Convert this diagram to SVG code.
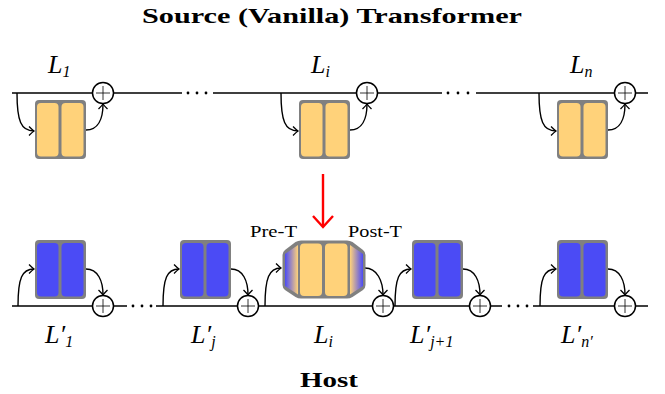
<svg xmlns="http://www.w3.org/2000/svg" width="665" height="394" viewBox="0 0 665 394">
<style>
.ln{stroke:#000;stroke-width:1.5;fill:none}
.arr{stroke:#000;stroke-width:1.4;fill:none;marker-end:url(#ah)}
.frame{fill:#808080}
.org{fill:#FFD27A}
.blu{fill:#4B4BF5}
.plus circle{fill:#fff;stroke:#000;stroke-width:1.5}
.plus path{stroke:#000;stroke-width:0.8;fill:none}
.dot{fill:#000}
text{font-family:'Liberation Serif','Times New Roman','DejaVu Serif',serif;fill:#000}
.title{font-weight:bold;font-size:21px}
.lab{font-style:italic;font-size:26px}
.sub{font-size:16px}
.small{font-size:17.5px}
</style>
<defs>
<marker id="ah" markerUnits="userSpaceOnUse" markerWidth="12" markerHeight="12" viewBox="-6 -6 12 12" refX="0" refY="0" orient="auto">
<path d="M-5,-4.5 Q-1.5,-1 0,0 Q-1.5,1 -5,4.5" stroke="#000" stroke-width="1.3" fill="none"/>
</marker>
<linearGradient id="gl" x1="0" y1="0" x2="1" y2="0">
<stop offset="0" stop-color="#4B4BF5"/>
<stop offset="1" stop-color="#FFD27A"/>
</linearGradient>
<linearGradient id="gr" x1="0" y1="0" x2="1" y2="0">
<stop offset="0" stop-color="#FFD27A"/>
<stop offset="1" stop-color="#4B4BF5"/>
</linearGradient>
</defs>

<text class="title" x="332" y="23" text-anchor="middle" textLength="380" lengthAdjust="spacingAndGlyphs">Source (Vanilla) Transformer</text>
<text class="title" x="329" y="387" text-anchor="middle" textLength="58" lengthAdjust="spacingAndGlyphs">Host</text>

<g id="connectors">
<path class="ln" d="M12,93 H182 M213,93 H442 M476,93 H648"/>
<circle class="dot" cx="188" cy="93" r="1.4"/><circle class="dot" cx="197" cy="93" r="1.4"/><circle class="dot" cx="206" cy="93" r="1.4"/>
<circle class="dot" cx="448" cy="93" r="1.4"/><circle class="dot" cx="458" cy="93" r="1.4"/><circle class="dot" cx="468" cy="93" r="1.4"/>
<path class="ln" d="M12,306 H127 M156,306 H502 M533,306 H648"/>
<circle class="dot" cx="133" cy="306" r="1.4"/><circle class="dot" cx="142" cy="306" r="1.4"/><circle class="dot" cx="151" cy="306" r="1.4"/>
<circle class="dot" cx="509" cy="306" r="1.4"/><circle class="dot" cx="518" cy="306" r="1.4"/><circle class="dot" cx="527" cy="306" r="1.4"/>
<path class="arr" d="M17,93 C17,121 21,131 34,131"/>
<path class="arr" d="M86,130 C98,130 103,119 103,104"/>
<path class="arr" d="M281,93 C281,121 285,131 298,131"/>
<path class="arr" d="M350,130 C362,130 367,119 367,104"/>
<path class="arr" d="M539,93 C539,121 543,131 556,131"/>
<path class="arr" d="M608,130 C620,130 625,119 625,104"/>
<path class="arr" d="M18,306 C18,278 22,269 34,269"/>
<path class="arr" d="M86,269 C98,269 103,281 103,295"/>
<path class="arr" d="M163,306 C163,278 167,269 179,269"/>
<path class="arr" d="M231,269 C243,269 248,281 248,295"/>
<path class="arr" d="M265,306 C265,278 269,268 281,268"/>
<path class="arr" d="M365,268 C377,268 383,281 383,295"/>
<path class="arr" d="M395,306 C395,278 399,269 411,269"/>
<path class="arr" d="M463,269 C475,269 480,281 480,295"/>
<path class="arr" d="M540,306 C540,278 544,269 556,269"/>
<path class="arr" d="M608,269 C620,269 625,281 625,295"/>
<path d="M323,174 V226" stroke="#FF0000" stroke-width="2.4" fill="none"/>
<path d="M313,216 L323,227 L333,216" stroke="#FF0000" stroke-width="2.4" fill="none"/>
</g>

<g id="adders">
<g class="plus"><circle cx="103" cy="93" r="10.5"/><path d="M96,93 H110 M103,86 V100"/></g>
<g class="plus"><circle cx="367" cy="93" r="10.5"/><path d="M360,93 H374 M367,86 V100"/></g>
<g class="plus"><circle cx="625" cy="93" r="10.5"/><path d="M618,93 H632 M625,86 V100"/></g>
<g class="plus"><circle cx="103" cy="306" r="10.5"/><path d="M96,306 H110 M103,299 V313"/></g>
<g class="plus"><circle cx="248" cy="306" r="10.5"/><path d="M241,306 H255 M248,299 V313"/></g>
<g class="plus"><circle cx="383" cy="306" r="10.5"/><path d="M376,306 H390 M383,299 V313"/></g>
<g class="plus"><circle cx="480" cy="306" r="10.5"/><path d="M473,306 H487 M480,299 V313"/></g>
<g class="plus"><circle cx="625" cy="306" r="10.5"/><path d="M618,306 H632 M625,299 V313"/></g>
</g>

<g id="src-L1">
<rect class="frame" x="35" y="100" width="51" height="59" rx="4"/>
<rect class="org" x="37" y="103" width="21.5" height="53.5" rx="4"/>
<rect class="org" x="61.5" y="103" width="22" height="53.5" rx="4"/>
<text class="lab" x="48" y="73">L<tspan class="sub" dy="4">1</tspan></text>
</g>
<g id="src-Li">
<rect class="frame" x="299" y="100" width="51" height="59" rx="4"/>
<rect class="org" x="301" y="103" width="21.5" height="53.5" rx="4"/>
<rect class="org" x="325.5" y="103" width="22" height="53.5" rx="4"/>
<text class="lab" x="311" y="73">L<tspan class="sub" dy="4">i</tspan></text>
</g>
<g id="src-Ln">
<rect class="frame" x="557" y="100" width="51" height="59" rx="4"/>
<rect class="org" x="559" y="103" width="21.5" height="53.5" rx="4"/>
<rect class="org" x="583.5" y="103" width="22" height="53.5" rx="4"/>
<text class="lab" x="570" y="73">L<tspan class="sub" dy="4">n</tspan></text>
</g>

<g id="host-L1">
<rect class="frame" x="35" y="240" width="51" height="59" rx="4"/>
<rect class="blu" x="37" y="243" width="21.5" height="53.5" rx="4"/>
<rect class="blu" x="61.5" y="243" width="22" height="53.5" rx="4"/>
<text class="lab" x="45" y="343">L′<tspan class="sub" dy="4">1</tspan></text>
</g>
<g id="host-Lj">
<rect class="frame" x="180" y="240" width="51" height="59" rx="4"/>
<rect class="blu" x="182" y="243" width="21.5" height="53.5" rx="4"/>
<rect class="blu" x="206.5" y="243" width="22" height="53.5" rx="4"/>
<text class="lab" x="191" y="343">L′<tspan class="sub" dy="4">j</tspan></text>
</g>
<g id="host-Li">
<path class="frame" d="M301,240.5 H347 Q350,240.5 352.5,242 L363,250 Q365.5,252 365.5,255 V285 Q365.5,288 363,290 L352.5,297 Q350,298.5 347,298.5 H301 Q298,298.5 295.5,297 L285,290 Q282.5,288 282.5,285 V255 Q282.5,252 285,250 L295.5,242 Q298,240.5 301,240.5 Z"/>
<path fill="url(#gl)" d="M285,254 L298,245 V294.5 L285,286 Z"/>
<path fill="url(#gr)" d="M350,245 L363,254 V286 L350,294.5 Z"/>
<rect class="org" x="300" y="243.5" width="22" height="52.5" rx="4"/>
<rect class="org" x="325" y="243.5" width="22.5" height="52.5" rx="4"/>
<text class="small" x="250" y="237" textLength="47" lengthAdjust="spacingAndGlyphs">Pre-T</text>
<text class="small" x="348" y="237" textLength="54" lengthAdjust="spacingAndGlyphs">Post-T</text>
<text class="lab" x="314" y="343">L<tspan class="sub" dy="4">i</tspan></text>
</g>
<g id="host-Lj1">
<rect class="frame" x="412" y="240" width="51" height="59" rx="4"/>
<rect class="blu" x="414" y="243" width="21.5" height="53.5" rx="4"/>
<rect class="blu" x="438.5" y="243" width="22" height="53.5" rx="4"/>
<text class="lab" x="410" y="343">L′<tspan class="sub" dy="4">j+1</tspan></text>
</g>
<g id="host-Ln">
<rect class="frame" x="557" y="240" width="51" height="59" rx="4"/>
<rect class="blu" x="559" y="243" width="21.5" height="53.5" rx="4"/>
<rect class="blu" x="583.5" y="243" width="22" height="53.5" rx="4"/>
<text class="lab" x="561" y="343">L′<tspan class="sub" dy="4">n′</tspan></text>
</g>
</svg>
